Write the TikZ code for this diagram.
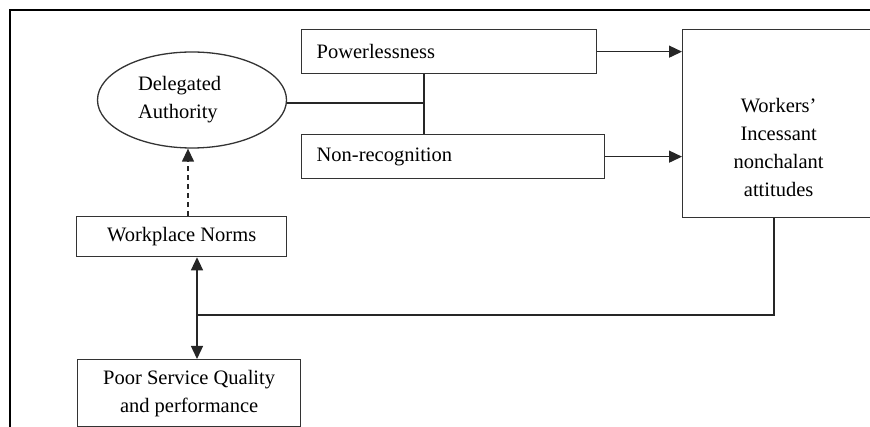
\documentclass[tikz,border=0pt]{standalone}
\usepackage{fontspec}
\setmainfont{Liberation Serif}
\usetikzlibrary{arrows.meta,shapes.geometric}
\begin{document}
\begin{tikzpicture}[>={Triangle[width=12pt,length=13pt]},x=1pt,y=-1pt,
		font=\fontsize{20.5}{28}\selectfont,line width=1.3pt,
		box/.style={draw=black!80,rectangle,anchor=north west,inner ysep=0pt},
		leftbox/.style={box,inner xsep=15pt,text width=#1,align=left,minimum height=44pt},
		link/.style={draw=black!85},
		lbl/.style={align=center,inner sep=0pt}]
	\useasboundingbox (0,0) rectangle (870,427);
	\clip (0,0) rectangle (870,427);
	\draw[line width=2.6pt] (10,440)--(10,10)--(880,10);
	\node[draw=black!80,ellipse,minimum width=189pt,minimum height=96pt,inner sep=0pt,
		text width=108pt,align=left] (auth) at (192,100) {Delegated\\Authority};
	\node[leftbox=265pt] (pow) at (301,29) {Powerlessness};
	\node[leftbox=273pt] (nonrec) at (301,134) {Non-recognition};
	\node[box,minimum width=192pt,minimum height=188pt,
		label={[lbl,yshift=-24pt]center:Workers’\\Incessant\\nonchalant\\attitudes}] (workers) at (682,29) {};
	\node[box,minimum width=210pt,minimum height=40pt] (norms) at (76,216) {Workplace Norms};
	\node[box,minimum width=223pt,minimum height=67pt,align=center] (poor) at (77,359) {Poor Service Quality\\and performance};
	\coordinate (join) at (424,103);
	\coordinate (dash) at (188,0);
	\coordinate (meet) at (197,315);
	\coordinate (turn) at (774,315);
	\draw[link] (auth.east |- join)--(join);
	\draw[link] (pow.south -| join)--(nonrec.north -| join);
	\draw[link,->] (pow.east)--(pow.east -| workers.west);
	\draw[link,->] (nonrec.east)--(nonrec.east -| workers.west);
	\draw[link,->,dash pattern=on 5pt off 4pt] (norms.north -| dash)--(auth.south -| dash);
	\draw[link,<->] (norms.south -| meet)--(poor.north -| meet);
	\draw[link] (workers.south -| turn)--(turn)--(meet);
\end{tikzpicture}
\end{document}
